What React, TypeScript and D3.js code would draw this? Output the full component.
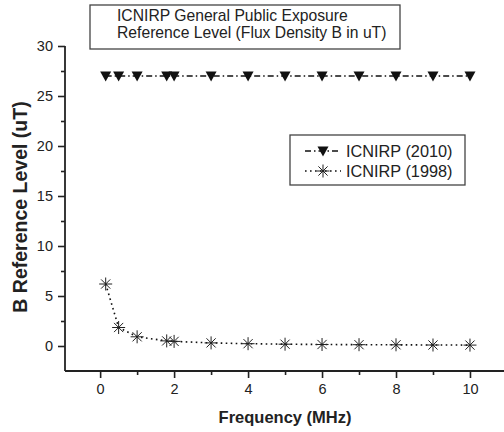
import React, { useEffect, useRef } from "react";
import * as d3 from "d3";

const freqs = [0.15, 0.5, 1, 1.8, 2, 3, 4, 5, 6, 7, 8, 9, 10];
const icnirp2010 = [27, 27, 27, 27, 27, 27, 27, 27, 27, 27, 27, 27, 27];
const icnirp1998 = [6.2, 1.85, 0.92, 0.51, 0.46, 0.31, 0.23, 0.18, 0.15, 0.13, 0.12, 0.1, 0.09];
const yMajor = [0, 5, 10, 15, 20, 25, 30];
const yMinor = [2.5, 7.5, 12.5, 17.5, 22.5, 27.5];
const xMajor = [0, 2, 4, 6, 8, 10];
const xMinor = [1, 3, 5, 7, 9];
const seriesNames = ["ICNIRP (2010)", "ICNIRP (1998)"];
const titleLines = ["ICNIRP General Public Exposure", "Reference Level (Flux Density B in uT)"];

const W = 504;
const H = 432;
const FONT = "'Liberation Sans', Arial, Helvetica, sans-serif";

export default function App() {
  const ref = useRef<SVGSVGElement>(null);

  useEffect(() => {
    document.body.style.margin = "0";
    const svg = d3.select(ref.current);
    svg.selectAll("*").remove();

    const x = d3.scaleLinear().domain([-0.95, 10.92]).range([65, 504]);
    const y = d3.scaleLinear().domain([-2.5, 30]).range([371, 46]);
    const axisColor = "#222";

    // Y axis
    const gy = svg.append("g").attr("transform", `translate(${x(-0.95)},0)`);
    gy.call(
      d3.axisLeft(y).tickValues(yMajor).tickSize(7).tickSizeOuter(0).tickPadding(5).tickFormat(d3.format("d"))
    );
    gy.append("g").call(d3.axisLeft(y).tickValues(yMinor).tickSize(4).tickSizeOuter(0).tickFormat(() => ""));
    gy.selectAll("path.domain").remove();
    gy.append("line").attr("x1", 0).attr("x2", 0).attr("y1", y(30)).attr("y2", y(-2.5))
      .attr("stroke", axisColor).attr("stroke-width", 1.8);

    // X axis
    const gx = svg.append("g").attr("transform", `translate(0,${y(-2.5)})`);
    gx.call(
      d3.axisBottom(x).tickValues(xMajor).tickSize(7).tickSizeOuter(0).tickPadding(6).tickFormat(d3.format("d"))
    );
    gx.append("g").call(d3.axisBottom(x).tickValues(xMinor).tickSize(4).tickSizeOuter(0).tickFormat(() => ""));
    gx.selectAll("path.domain").remove();
    gx.append("line").attr("x1", x(-0.95)).attr("x2", x(10.92)).attr("y1", 0).attr("y2", 0)
      .attr("stroke", axisColor).attr("stroke-width", 1.8);

    svg.selectAll(".tick line").attr("stroke", axisColor).attr("stroke-width", 1.6);
    svg.selectAll(".tick text").attr("font-family", FONT).attr("font-size", 14.5).attr("fill", "#222");

    // Axis titles
    svg.append("text").attr("x", x(5) - 0).attr("y", 423).attr("text-anchor", "middle")
      .attr("font-family", FONT).attr("font-weight", "bold").attr("font-size", 16.5).attr("fill", "#222")
      .text("Frequency (MHz)");
    svg.append("text").attr("transform", `translate(27,207) rotate(-90)`).attr("text-anchor", "middle")
      .attr("font-family", FONT).attr("font-weight", "bold").attr("font-size", 19.5).attr("fill", "#222")
      .text("B Reference Level (uT)");

    const pts2010 = freqs.map((f, i) => [f, icnirp2010[i]] as [number, number]);
    const pts1998 = freqs.map((f, i) => [f, icnirp1998[i]] as [number, number]);
    const line = d3.line<[number, number]>().x((d) => x(d[0])).y((d) => y(d[1]));

    // 2010 series
    svg.append("path").attr("d", line(pts2010)).attr("fill", "none").attr("stroke", "#111")
      .attr("stroke-width", 1.3).attr("stroke-dasharray", "6,3,1.5,3");
    const tri = (cx: number, cy: number) => `M${cx - 5.5},${cy - 4.5}L${cx + 5.5},${cy - 4.5}L${cx},${cy + 5.5}Z`;
    svg.append("g").selectAll("path").data(pts2010).join("path")
      .attr("d", (d) => tri(x(d[0]), y(d[1]))).attr("fill", "#111");

    // 1998 series
    svg.append("path").attr("d", line(pts1998)).attr("fill", "none").attr("stroke", "#111")
      .attr("stroke-width", 1.6).attr("stroke-dasharray", "1.6,3.4");
    const star = (cx: number, cy: number) => {
      const r = 6.5;
      let p = "";
      for (let k = 0; k < 4; k++) {
        const a = (k * Math.PI) / 4;
        p += `M${cx - r * Math.cos(a)},${cy - r * Math.sin(a)}L${cx + r * Math.cos(a)},${cy + r * Math.sin(a)}`;
      }
      return p;
    };
    svg.append("g").selectAll("path").data(pts1998).join("path")
      .attr("d", (d) => star(x(d[0]), y(d[1]))).attr("stroke", "#222").attr("stroke-width", 1).attr("fill", "none");

    // Title box
    svg.append("rect").attr("x", 90).attr("y", 5).attr("width", 310).attr("height", 44)
      .attr("fill", "white").attr("stroke", "#444").attr("stroke-width", 1.3);
    svg.append("g").selectAll("text").data(titleLines).join("text")
      .attr("x", 117).attr("y", (_, i) => 21 + i * 17)
      .attr("font-family", FONT).attr("font-size", 15.7).attr("fill", "#222").text((d) => d);

    // Legend
    svg.append("rect").attr("x", 290).attr("y", 135).attr("width", 175).attr("height", 50)
      .attr("fill", "white").attr("stroke", "#444").attr("stroke-width", 1.3);
    const ly = [151, 171];
    svg.append("line").attr("x1", 305).attr("x2", 341).attr("y1", ly[0]).attr("y2", ly[0])
      .attr("stroke", "#111").attr("stroke-width", 1.3).attr("stroke-dasharray", "6,3,1.5,3");
    svg.append("path").attr("d", tri(323, ly[0])).attr("fill", "#111");
    svg.append("line").attr("x1", 305).attr("x2", 341).attr("y1", ly[1]).attr("y2", ly[1])
      .attr("stroke", "#111").attr("stroke-width", 1.6).attr("stroke-dasharray", "1.6,3.4");
    svg.append("path").attr("d", star(323, ly[1])).attr("stroke", "#222").attr("stroke-width", 1).attr("fill", "none");
    svg.append("g").selectAll("text").data(seriesNames).join("text")
      .attr("x", 346).attr("y", (_, i) => ly[i] + 5.5)
      .attr("font-family", FONT).attr("font-size", 16.3).attr("fill", "#222").text((d) => d);
  }, []);

  return (
    <svg ref={ref} width={W} height={H} style={{ position: "absolute", left: 0, top: 0, background: "white" }} />
  );
}
